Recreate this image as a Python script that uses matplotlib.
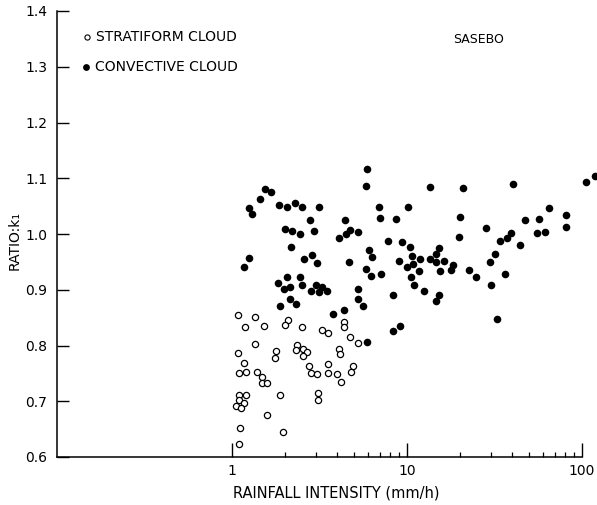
import matplotlib
matplotlib.use("Agg")

import matplotlib.pyplot as plt
from matplotlib.ticker import FixedLocator, NullFormatter

# rainfall intensity (mm/h) and ratio k1
conv_x = [1.544, 1.671, 1.445, 1.256, 1.296, 1.856, 2.070, 2.291, 2.502, 3.141,
          2.802, 2.001, 2.211, 2.437, 2.953, 2.165, 1.256, 1.166, 2.589, 2.854,
          3.048, 2.062, 2.437, 1.832, 1.975, 2.145, 2.502, 3.020, 3.268, 2.828,
          3.129, 3.477, 2.154, 2.331, 1.880, 5.931, 5.831, 13.62, 20.76, 6.946,
          10.17, 7.038, 8.619, 4.406, 4.724, 4.465, 4.104, 5.268, 20.09, 19.95,
          7.818, 9.327, 10.44, 6.066, 6.285, 10.68, 11.87, 9.036, 9.961, 10.78,
          11.76, 15.23, 14.65, 13.53, 14.74, 16.27, 18.24, 17.77, 15.44, 4.680,
          5.808, 6.203, 7.075, 10.58, 10.96, 12.51, 5.228, 5.248, 5.583, 8.287,
          15.23, 14.65, 4.365, 3.752, 5.885, 8.352, 9.158, 40.18, 105.8, 119.1,
          64.76, 46.93, 56.56, 80.48, 80.70, 28.39, 39.14, 37.13, 34.09, 54.95,
          61.62, 44.36, 31.62, 29.81, 22.61, 24.86, 36.16, 30.20, 32.55]
conv_k = [1.080, 1.075, 1.063, 1.046, 1.035, 1.052, 1.048, 1.055, 1.049, 1.049,
          1.026, 1.009, 1.005, 1.000, 1.005, 0.977, 0.957, 0.941, 0.955, 0.962,
          0.948, 0.923, 0.923, 0.912, 0.901, 0.905, 0.909, 0.909, 0.905, 0.898,
          0.896, 0.898, 0.883, 0.874, 0.870, 1.116, 1.086, 1.085, 1.083, 1.049,
          1.048, 1.029, 1.027, 1.025, 1.007, 1.000, 0.993, 1.003, 1.030, 0.995,
          0.987, 0.986, 0.976, 0.971, 0.959, 0.961, 0.956, 0.952, 0.941, 0.947,
          0.934, 0.975, 0.964, 0.955, 0.950, 0.952, 0.944, 0.935, 0.934, 0.949,
          0.938, 0.925, 0.928, 0.922, 0.909, 0.898, 0.901, 0.883, 0.871, 0.891,
          0.891, 0.879, 0.863, 0.856, 0.807, 0.826, 0.835, 1.089, 1.094, 1.104,
          1.047, 1.025, 1.027, 1.034, 1.012, 1.010, 1.002, 0.992, 0.987, 1.001,
          1.004, 0.980, 0.965, 0.950, 0.935, 0.923, 0.928, 0.908, 0.848]

strat_x = [1.082, 1.359, 1.182, 1.524, 2.097, 2.009, 2.522, 3.255, 3.523, 1.353,
           1.082, 1.791, 1.768, 2.361, 2.312, 2.535, 2.693, 2.545, 1.176, 1.096,
           1.202, 1.395, 1.478, 1.478, 1.585, 2.754, 2.839, 3.048, 3.550, 3.550,
           1.101, 1.197, 1.096, 1.054, 1.176, 1.130, 1.880, 3.101, 3.088, 1.585,
           1.107, 1.944, 1.101, 4.337, 4.383, 4.724, 5.262, 4.104, 4.157, 3.964,
           4.179, 4.933, 4.805]
strat_k = [0.854, 0.852, 0.834, 0.835, 0.846, 0.836, 0.834, 0.827, 0.823, 0.803,
           0.787, 0.791, 0.778, 0.801, 0.792, 0.794, 0.789, 0.782, 0.769, 0.750,
           0.752, 0.752, 0.744, 0.732, 0.732, 0.764, 0.750, 0.749, 0.767, 0.751,
           0.712, 0.711, 0.702, 0.692, 0.696, 0.687, 0.712, 0.714, 0.703, 0.675,
           0.652, 0.644, 0.624, 0.842, 0.833, 0.815, 0.804, 0.793, 0.784, 0.748,
           0.734, 0.764, 0.752]

y_ticks = [0.6, 0.7, 0.8, 0.9, 1.0, 1.1, 1.2, 1.3, 1.4]
x_ticks = [1, 10, 100]
x_minor = [2, 3, 4, 5, 6, 7, 8, 9, 20, 30, 40, 50, 60, 70, 80, 90]

plt.rcParams["font.family"] = "DejaVu Sans"

fig = plt.figure(figsize=(5.97, 5.05), dpi=100)
ax = fig.add_axes([57 / 597, 48 / 505, 540 / 597, 446 / 505])

ax.scatter(strat_x, strat_k, s=20, facecolors="white", edgecolors="black",
           linewidths=0.9, zorder=3, clip_on=False)
ax.scatter(conv_x, conv_k, s=30, color="black", linewidths=0, zorder=3,
           clip_on=False)

ax.set_xscale("log")
ax.set_xlim(0.1, 121.8)
ax.set_ylim(0.6, 1.4)

for side in ["top", "right"]:
    ax.spines[side].set_visible(False)
ax.spines["bottom"].set_bounds(0.1, 100)
for side in ["left", "bottom"]:
    ax.spines[side].set_linewidth(1.1)

ax.xaxis.set_major_locator(FixedLocator(x_ticks))
ax.xaxis.set_minor_locator(FixedLocator(x_minor))
ax.xaxis.set_minor_formatter(NullFormatter())
ax.set_xticklabels([str(v) for v in x_ticks])
ax.set_yticks(y_ticks, [f"{v:.1f}" for v in y_ticks])

ax.tick_params(axis="y", direction="in", length=8.5, width=1.0, pad=7,
               labelsize=10)
ax.tick_params(axis="x", which="major", direction="in", length=10, width=1.0,
               pad=5, labelsize=10)
ax.tick_params(axis="x", which="minor", direction="in", length=3.6, width=0.9)

# hand-drawn style legend
ax.scatter([0.0556], [0.942], s=14, facecolors="white", edgecolors="black",
           linewidths=0.8, transform=ax.transAxes, clip_on=False)
ax.scatter([0.0537], [0.874], s=24, color="black", linewidths=0,
           transform=ax.transAxes, clip_on=False)
ax.text(0.072, 0.942, "STRATIFORM CLOUD", transform=ax.transAxes,
        va="center", ha="left", fontsize=10)
ax.text(0.070, 0.874, "CONVECTIVE CLOUD", transform=ax.transAxes,
        va="center", ha="left", fontsize=10)
ax.text(0.781, 0.937, "SASEBO", transform=ax.transAxes, va="center",
        ha="center", fontsize=9)

fig.text(233 / 597, 1 - 493 / 505, "RAINFALL INTENSITY (mm/h)", ha="left",
         va="center", fontsize=10.5)
fig.text(15 / 597, 1 - 240 / 505, "RATIO:k₁", rotation=90, ha="center",
         va="center", fontsize=10)

fig.savefig("out.png", dpi=100)
